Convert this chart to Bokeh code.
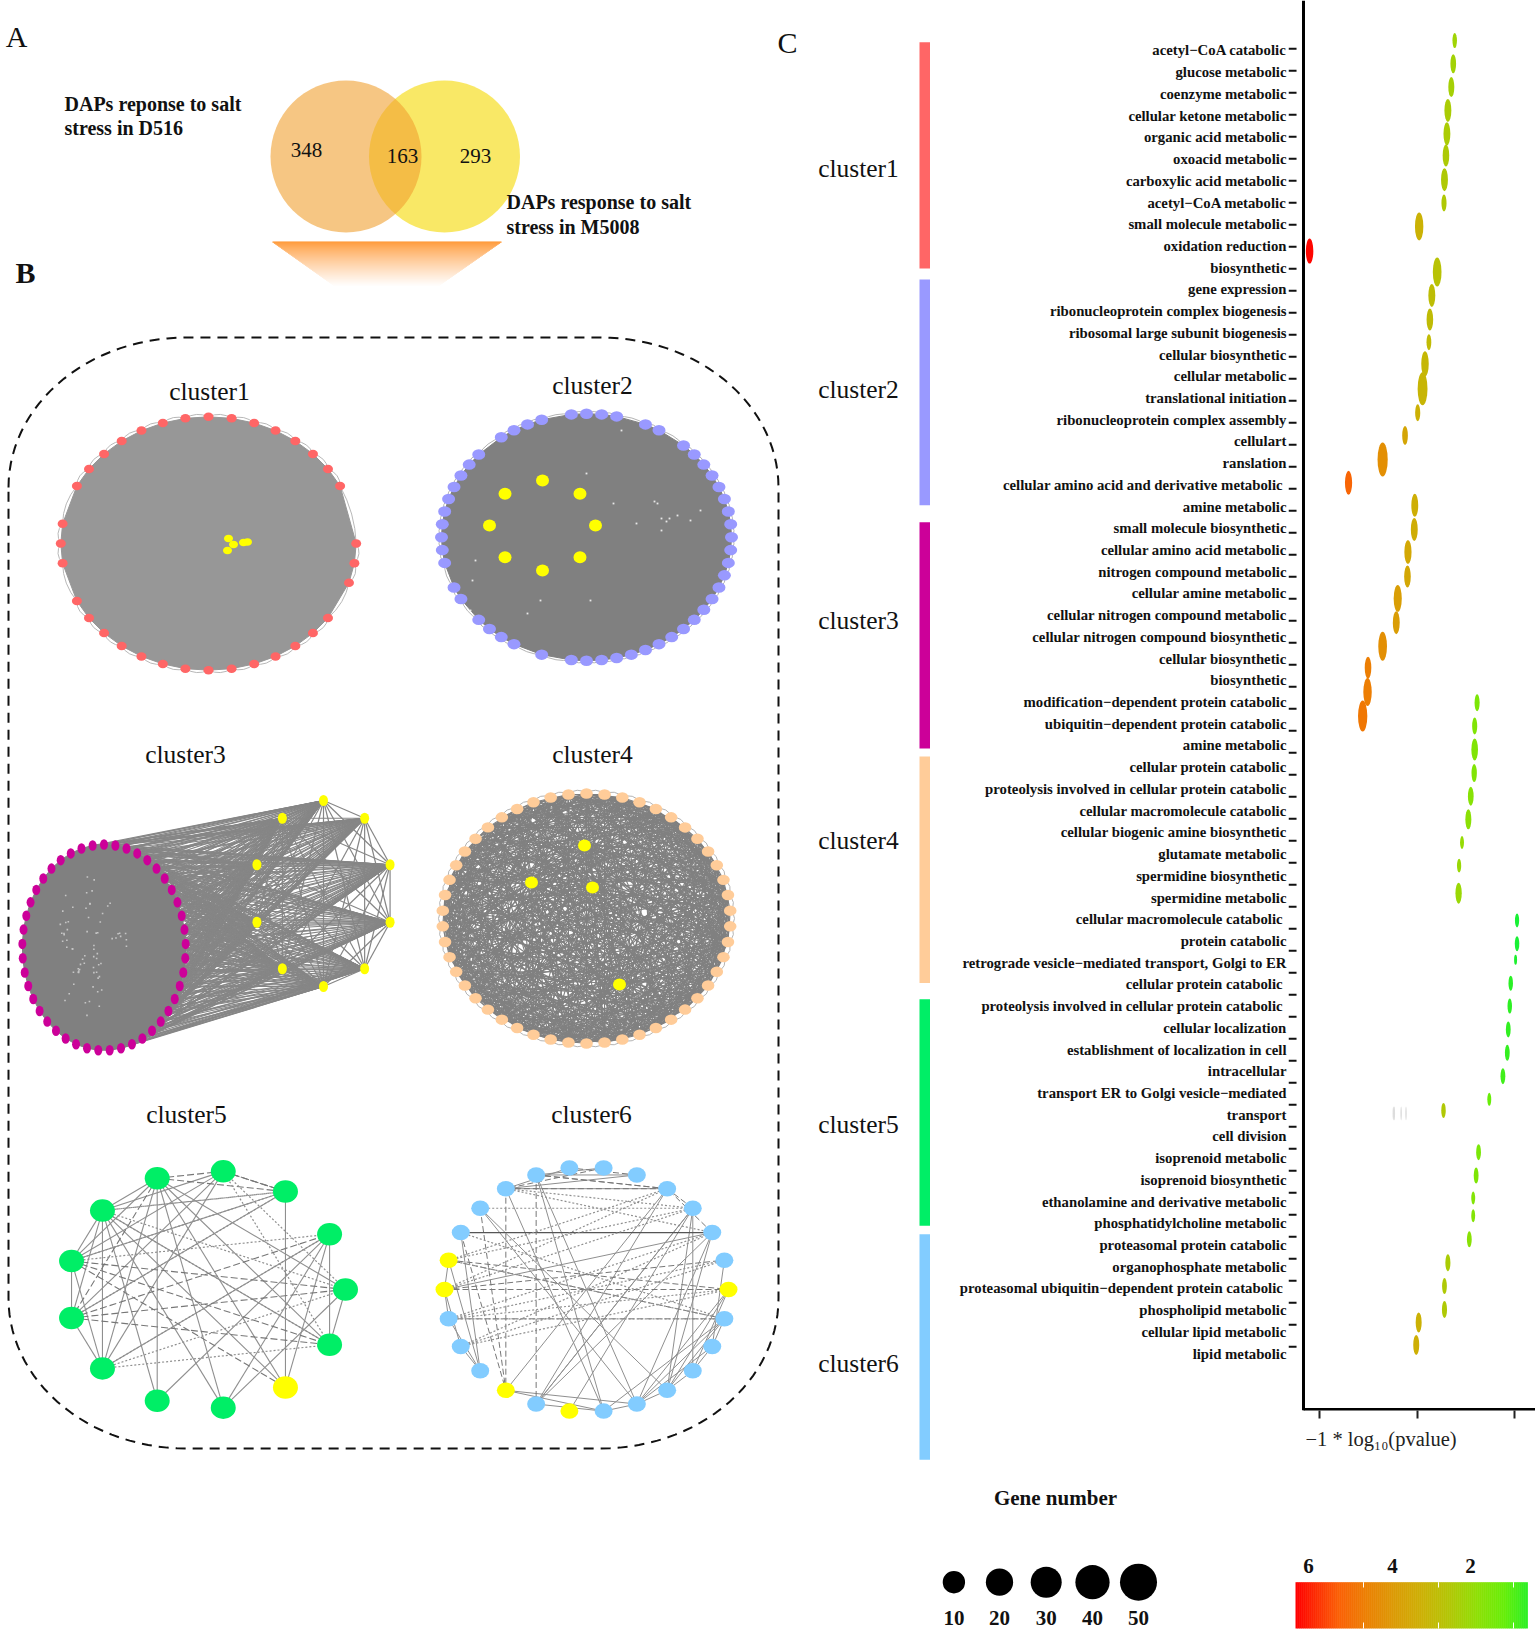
import numpy as np
from bokeh.plotting import figure
from bokeh.layouts import row, column
from bokeh.models import Range1d, LinearAxis, FixedTicker, Span
from bokeh.core.properties import value
from bokeh.embed import file_html
from bokeh.resources import INLINE

SERIF = "Liberation Serif"

# ---------- data ----------
go_terms = ["acetyl\u2212CoA catabolic", "glucose metabolic", "coenzyme metabolic", "cellular ketone metabolic",
    "organic acid metabolic", "oxoacid metabolic", "carboxylic acid metabolic", "acetyl\u2212CoA metabolic",
    "small molecule metabolic", "oxidation reduction", "biosynthetic", "gene expression",
    "ribonucleoprotein complex biogenesis", "ribosomal large subunit biogenesis", "cellular biosynthetic",
    "cellular metabolic", "translational initiation", "ribonucleoprotein complex assembly", "cellulart", "ranslation",
    "cellular amino acid and derivative metabolic ", "amine metabolic", "small molecule biosynthetic",
    "cellular amino acid metabolic", "nitrogen compound metabolic", "cellular amine metabolic",
    "cellular nitrogen compound metabolic", "cellular nitrogen compound biosynthetic", "cellular biosynthetic",
    "biosynthetic", "modification\u2212dependent protein catabolic", "ubiquitin\u2212dependent protein catabolic",
    "amine metabolic", "cellular protein catabolic", "proteolysis involved in cellular protein catabolic",
    "cellular macromolecule catabolic", "cellular biogenic amine biosynthetic", "glutamate metabolic",
    "spermidine biosynthetic", "spermidine metabolic", "cellular macromolecule catabolic ", "protein catabolic",
    "retrograde vesicle\u2212mediated transport, Golgi to ER", "cellular protein catabolic ",
    "proteolysis involved in cellular protein catabolic ", "cellular localization",
    "establishment of localization in cell", "intracellular", "transport ER to Golgi vesicle\u2212mediated",
    "transport", "cell division", "isoprenoid metabolic", "isoprenoid biosynthetic",
    "ethanolamine and derivative metabolic", "phosphatidylcholine metabolic", "proteasomal protein catabolic",
    "organophosphate metabolic", "proteasomal ubiquitin\u2212dependent protein catabolic ", "phospholipid metabolic",
    "cellular lipid metabolic", "lipid metabolic"]

dot_pvalue = [3.23,3.26,3.30,3.37,3.39,3.41,3.44,3.45,3.96,6.21,3.59,3.70,3.74,3.76,3.84,3.89,3.99,4.25,4.71,5.41,
    4.05,4.06,4.19,4.20,4.40,4.43,4.71,5.01,5.02,5.12,2.77,2.82,2.82,2.83,2.90,2.95,3.08,3.14,3.15,1.95,
    1.95,1.98,2.08,2.10,2.13,2.15,2.24,2.52,3.46,2.74,2.79,2.85,2.85,2.93,3.37,3.44,3.44,3.97,4.02]
dot_row = [-0.38,0.69,1.77,2.85,3.93,4.93,6.05,7.13,8.21,9.35,10.32,11.40,12.51,13.56,14.56,15.71,16.82,17.87,18.98,20.06,
    21.10,22.21,23.26,24.39,25.40,26.52,27.61,28.60,29.73,30.84,30.22,31.30,32.38,33.47,34.54,35.61,36.68,37.75,39.02,40.28,
    41.36,42.10,43.18,44.24,45.32,46.40,47.48,48.55,49.06,50.99,52.07,53.11,53.93,55.02,56.10,57.18,58.26,58.86,59.90]
dot_genes = [14,22,24,30,30,28,30,18,40,34,42,30,28,16,34,50,18,22,52,32,
    30,30,32,28,38,30,42,28,40,46,18,18,28,20,22,24,10,12,26,12,
    14,4,14,14,16,16,16,10,14,16,16,10,10,16,18,16,18,24,24]
ghost_pvalue = [4.49,4.47,4.33,4.23]
ghost_row = [49.2,49.2,49.2,49.2]

cluster_names = ["cluster1","cluster2","cluster3","cluster4","cluster5","cluster6"]
cluster_colors = ["#ff6666","#9999ff","#cc0099","#ffcc99","#00ee66","#82ccff"]
band_start = [-0.30,10.66,21.88,32.70,43.92,54.78]
band_end = [10.15,21.09,32.33,43.17,54.39,65.20]
band_label_row = [5.53,15.74,26.40,36.58,49.71,60.76]

legend_genes = [10,20,30,40,50]
colorbar_labels = ["6","4","2"]

venn_counts = ["348","163","293"]

# edge lists of the two small networks (node indices around the ring)
c5_solid = [(4,5),(4,6),(4,8),(4,9),(4,10),(4,11),(4,12),(4,0),(5,6),(5,7),(5,8),(5,9),(5,10),(5,11),(5,12),(3,5),(3,6),(3,7),
            (3,8),(2,6),(2,7),(2,11),(1,9),(1,10),(1,12),(1,8),(6,7),(6,8),(7,8),(0,12),(0,10),(1,11)]
c5_dash = [(4,3),(4,2),(3,2),(6,0),(6,12),(7,0),(7,12),(4,7),(2,3),(6,11),(7,1)]
c5_dot = [(5,0),(5,12),(8,0),(8,12),(3,0),(2,5),(3,12),(6,1),(7,2),(8,1),(6,2),(5,2)]
c6_solid = [(10,21),(10,22),(9,20),(8,21),(8,20),(4,17),(4,18),(3,18),(3,19),(2,21),(2,22),(3,22),(3,23),(1,24),(17,21),
            (17,20),(18,20),(18,2),(18,3),(12,16),(11,16),(14,16),(15,16),(13,15),(13,14),(12,13),(20,21),(21,22),(22,23),(23,24),
            (24,25),(22,25),(21,25),(21,24),(4,9),(5,8),(6,8),(5,9),(7,9),(13,2),(25,20),(0,21),(0,22),(0,23)]
c6_dark = [(11,2)]
c6_dash = [(8,18),(9,17),(9,4),(8,4),(10,17),(11,17),(13,1),(25,12),(25,14),(4,8),(3,4),(2,4),(6,9),(5,7),(13,0),(12,0)]
c6_dot = [(12,4),(12,3),(13,3),(13,4),(14,2),(14,1),(15,1),(15,2),(11,25),(12,25),(9,3),(10,3),(9,2),(15,0),(14,0),(14,25)]

# ---------- helpers ----------
anchors_v = [1.9,2.0,2.5,3.0,3.5,4.0,4.5,5.0,5.5,6.25]
anchors_c = ["#10f040","#1ff02a","#66ee08","#8fdf05","#b3c605","#cdb005","#dc9a05","#ec7f03","#fb5f05","#ff0000"]
def pcolor(v):
    ch = [np.interp(v, anchors_v, [int(c[i:i+2],16) for c in anchors_c]) for i in (1,3,5)]
    return "#%02x%02x%02x" % tuple(int(round(x)) for x in ch)

def ring(cx, cy, rx, ry, n, start=0.0):
    a = np.deg2rad(start + np.arange(n)*360.0/n)
    return cx + rx*np.cos(a), cy - ry*np.sin(a)

def bare(fig):
    fig.grid.visible = False
    fig.outline_line_color = None
    fig.background_fill_color = None
    fig.border_fill_color = None
    return fig

def txt(fig, x, y, s, size, bold=False, align="center", color="#111111"):
    fig.text([x],[y],text=[s],text_font=value(SERIF),text_font_size=f"{size}px",
             text_font_style="bold" if bold else "normal",text_align=align,text_baseline="middle",text_color=color)

def edges(fig, xs, ys, pairs, color="#8c8c8c", width=1.0, dash="solid", alpha=1.0):
    fig.multi_line([[xs[a],xs[b]] for a,b in pairs],[[ys[a],ys[b]] for a,b in pairs],
                   line_color=color,line_width=width,line_dash=dash,line_alpha=alpha)

def outer_arcs(fig, xs, ys, cx, cy, color, bulge=1.07):
    xa, ya = np.array(xs), np.array(ys)
    xb, yb = np.roll(xa,-1), np.roll(ya,-1)
    fig.quadratic(xa,ya,xb,yb,cx+((xa+xb)/2-cx)*bulge,cy+((ya+yb)/2-cy)*bulge,line_color=color,line_width=1)

# ---------- left figure: panels A and B ----------
L = figure(width=810,height=1634,x_range=Range1d(0,810),y_range=Range1d(1634,0),
           x_axis_location=None,y_axis_location=None,output_backend="svg",toolbar_location=None,min_border=0)
bare(L)

txt(L,16,36,"A",30); txt(L,25,272,"B",30,bold=True); txt(L,787,42,"C",30)

L.ellipse([444],[156],width=151,height=152,fill_color="#f5d800",fill_alpha=0.6,line_color=None)
L.ellipse([345.5],[156],width=151,height=152,fill_color="#f0a030",fill_alpha=0.6,line_color=None)
for x,y,s in zip([306,402,475],[149,155,155],venn_counts):
    txt(L,x,y,s,21)
txt(L,64,103,"DAPs reponse to salt",20,bold=True,align="left")
txt(L,64,127,"stress in D516",20,bold=True,align="left")
txt(L,506,201,"DAPs response to salt",20,bold=True,align="left")
txt(L,506,226,"stress in M5008",20,bold=True,align="left")

# funnel under the Venn diagram
fy = np.arange(241,285)
ft = (fy-241)/44.0
L.quad(left=272+62*ft,right=501-63*ft,top=fy,bottom=fy+1.3,line_color=None,
       fill_color=["#%02x%02x%02x"%(255,int(140+115*t**0.8),int(30+225*t**0.8)) for t in ft])

# dashed rounded frame
fx0,fx1,fy0,fy1,crx,cry = 8,778,337,1448,178,150
t = np.linspace(0,np.pi/2,30)
px = np.r_[fx0+crx-crx*np.cos(t), fx1-crx+crx*np.sin(t), fx1-crx+crx*np.cos(t), fx0+crx-crx*np.sin(t)]
py = np.r_[fy0+cry-cry*np.sin(t), fy0+cry-cry*np.cos(t), fy1-cry+cry*np.sin(t), fy1-cry+cry*np.cos(t)]
L.line(np.r_[px,fx0],np.r_[py,fy0+cry],line_color="#111111",line_width=2,line_dash="10 7")

for x,y,s in zip([209,592,185,592,186,591],[391,385,754,754,1114,1114],cluster_names):
    txt(L,x,y,s,25.5)

YEL = "#ffff00"
# cluster 1
x1,y1 = ring(208,543,147.7,126.7,40,0)
keep1 = [i for i in range(40) if i not in (1,2,18,22,37)]
x1,y1 = x1[keep1],y1[keep1]
outer_arcs(L,x1,y1,208,543,"#b8b8b8",1.05)
L.patch(x1,y1,fill_color="#979797",line_color="#979797")
L.ellipse(x1,y1,width=10,height=8.5,fill_color=cluster_colors[0],line_color=None)
L.ellipse([228,233,243,247,227],[538,544,542,541.5,550],width=9,height=7.5,fill_color=YEL,line_color=None)

# cluster 2
x2,y2 = ring(586,536.7,145,123.5,60,90)
skip2 = (3,6,32,34,39,42,53,58)
keep2 = [(60-k)%60 for k in range(60) if k not in skip2]
x2,y2 = x2[keep2],y2[keep2]
outer_arcs(L,x2,y2,586,536.7,"#b4b4b4",1.04)
L.patch(x2,y2,fill_color="#808080",line_color="#808080")
sx = [657,661,669,677,654,666,661,475,472,527,586,613,636,621,540,590,700,690,470]
sy = [503,518,518,515,501,521,530,560,580,613,473,503,523,430,600,600,510,520,610]
L.scatter(sx,sy,size=1.8,marker="square",fill_color="#e8e8e8",line_color=None)
L.ellipse(x2,y2,width=13,height=10.5,fill_color=cluster_colors[1],line_color=None)
yx,yy = ring(542,525,53,45,8,0)
L.ellipse(yx,yy,width=13,height=12,fill_color=YEL,line_color=None)

# cluster 3
x3,y3 = ring(103.5,947,81.7,103,45,90)
yx3,yy3 = ring(323,893,70,93,10,90)
bip = []
for i in range(45):
    for j in range(10):
        bip.append(([x3[i],yx3[j]],[y3[i],yy3[j]]))
L.multi_line([b[0] for b in bip],[b[1] for b in bip],line_color="#868686",line_width=1.1)
edges(L,yx3,yy3,[(a,b) for a in range(10) for b in range(a+1,10)],color="#868686",width=1.2)
L.patch(x3,y3,fill_color="#808080",line_color="#808080")
k = np.arange(70)
L.scatter(88+38*np.cos(k*2.4)*((k%7+1)/7),945+70*np.sin(k*2.4)*((k%5+1)/5),size=1.6,marker="square",
          fill_color="#c6c6c6",line_color=None)
L.ellipse(x3,y3,width=8,height=10.5,fill_color=cluster_colors[2],line_color=None)
L.ellipse(yx3,yy3,width=9,height=11,fill_color=YEL,line_color=None)

# cluster 4
x4,y4 = ring(586,918,144,125,50,90)
outer_arcs(L,x4,y4,586,918,"#b4b4b4",1.06)
y4x = [584,531,592,619]; y4y = [845,882,887,984]
allx = list(x4)+y4x; ally = list(y4)+y4y
pairs4 = [(i,j) for i in range(50) for j in range(i+2,50) if (i*7+j*11)%5<2 or (i*3+j*7)%9==0]
pairs4 += [(50+m,i) for m in range(4) for i in range(0,50,2)]
edges(L,allx,ally,pairs4,color="#808080",width=1.15)
L.ellipse(x4,y4,width=12.6,height=10.5,fill_color=cluster_colors[3],line_color=None)
L.ellipse(y4x,y4y,width=13,height=12,fill_color=YEL,line_color=None)

# cluster 5
x5,y5 = ring(206,1289,139,119,13,0)
edges(L,x5,y5,c5_solid,color="#8f8f8f",width=1.1)
edges(L,x5,y5,c5_dash,color="#777777",width=1.1,dash="7 3")
edges(L,x5,y5,c5_dot,color="#8f8f8f",width=1.2,dash="2 2")
L.ellipse(x5,y5,width=25,height=22.5,fill_color=[YEL if i==11 else cluster_colors[4] for i in range(13)],line_color=None)

# cluster 6
x6,y6 = ring(586,1289,142,122.5,26,0)
edges(L,x6,y6,c6_solid,color="#8f8f8f",width=1.0)
edges(L,x6,y6,c6_dark,color="#555555",width=1.2)
edges(L,x6,y6,c6_dash,color="#777777",width=1.0,dash="6 3")
edges(L,x6,y6,c6_dot,color="#8f8f8f",width=1.2,dash="2 2")
L.ellipse(x6,y6,width=18,height=15.5,fill_color=[YEL if i in (0,12,13,17,19) else cluster_colors[5] for i in range(26)],line_color=None)

# ---------- strip with the cluster bars ----------
S = figure(width=130,height=1634,x_range=Range1d(810,940),y_range=Range1d(73.28,-2.232),
           x_axis_location=None,y_axis_location=None,output_backend="svg",toolbar_location=None,min_border=0)
bare(S)
S.quad(left=[919]*6,right=[929.5]*6,top=band_start,bottom=band_end,fill_color=cluster_colors,line_color=None)
S.text([858]*6,band_label_row,text=cluster_names,text_font=value(SERIF),text_font_size="25.5px",
       text_align="center",text_baseline="middle",text_color="#111111")

# ---------- dot plot ----------
D = figure(width=595,height=1420,x_range=Range1d(6.643,1.571),y_range=Range1d(62.93,-2.232),
           y_axis_location=None,output_backend="svg",toolbar_location=None,
           min_border_left=348,min_border_right=0,min_border_top=0,min_border_bottom=10)
bare(D)
D.extra_y_ranges = {"labels":Range1d(62.62,-2.302)}
lab_axis = LinearAxis(y_range_name="labels",ticker=FixedTicker(ticks=list(range(61))),
    major_label_overrides={i:s for i,s in enumerate(go_terms)},
    major_tick_line_color=None,major_tick_in=0,major_tick_out=0,minor_tick_line_color=None,axis_line_color=None,
    major_label_standoff=2,major_label_text_font=SERIF,major_label_text_font_style="bold",
    major_label_text_font_size="14.75px",major_label_text_color="#111111")
D.add_layout(lab_axis,"left")
ax = D.xaxis[0]
ax.ticker = FixedTicker(ticks=[6,4,2])
ax.axis_line_color = None
ax.major_tick_in = 0
ax.major_tick_out = 8
ax.major_tick_line_width = 2
ax.major_tick_line_color = "#222222"
ax.minor_tick_line_color = None
ax.major_label_overrides = {6:"",4:"",2:""}
ax.major_label_standoff = 0

tick_rows = [i*1.01664 for i in range(60)]
D.segment(x0=[6.643]*60,x1=[6.478]*60,y0=tick_rows,y1=tick_rows,line_color="#111111",line_width=2)
D.add_layout(Span(location=6.335,dimension="height",line_color="#000000",line_width=3))
D.line([6.335,1.571],[62.88,62.88],line_color="#000000",line_width=3)

heights = [8+0.5*g for g in dot_genes]
D.ellipse(ghost_pvalue,ghost_row,width=[1.5]*4,height=[14]*4,width_units="screen",height_units="screen",
          fill_color="#dddddd",line_color=None)
D.ellipse(dot_pvalue,dot_row,width=[0.3*h for h in heights],height=heights,width_units="screen",height_units="screen",
          fill_color=[pcolor(v) for v in dot_pvalue],line_color=None)

# ---------- legends ----------
G = figure(width=595,height=214,x_range=Range1d(940,1535),y_range=Range1d(1634,1420),
           x_axis_location=None,y_axis_location=None,output_backend="svg",toolbar_location=None,min_border=0)
bare(G)
txt(G,1305,1438,"\u22121 * log\u2081\u2080(pvalue)",20.5,align="left",color="#222222")
txt(G,1055,1497,"Gene number",21,bold=True)
gx = [953.4,999,1045.7,1092,1138]
G.scatter(gx,[1581.7]*5,size=[10.5+3.75*np.sqrt(g) for g in legend_genes],fill_color="#000000",line_color=None)
for x,g in zip(gx,legend_genes):
    txt(G,x,1617,str(g),21,bold=True)
cb = np.linspace(6.25,2.1,116)
G.quad(left=1295+np.arange(116)*2,right=1295+np.arange(116)*2+2.4,top=1581.7,bottom=1628,
       fill_color=[pcolor(v) for v in cb],line_color=None)
for xt in (1363,1438,1513):
    G.segment([xt,xt],[1581.7,1622],[xt,xt],[1587,1628],line_color="#ffffff",line_width=1)
for x,s in zip([1308,1392,1470],colorbar_labels):
    txt(G,x,1565,s,21,bold=True)

page = row(L,S,column(row(D,spacing=0),G,spacing=0),spacing=0)
open("out.html","w").write(file_html(page,INLINE))
